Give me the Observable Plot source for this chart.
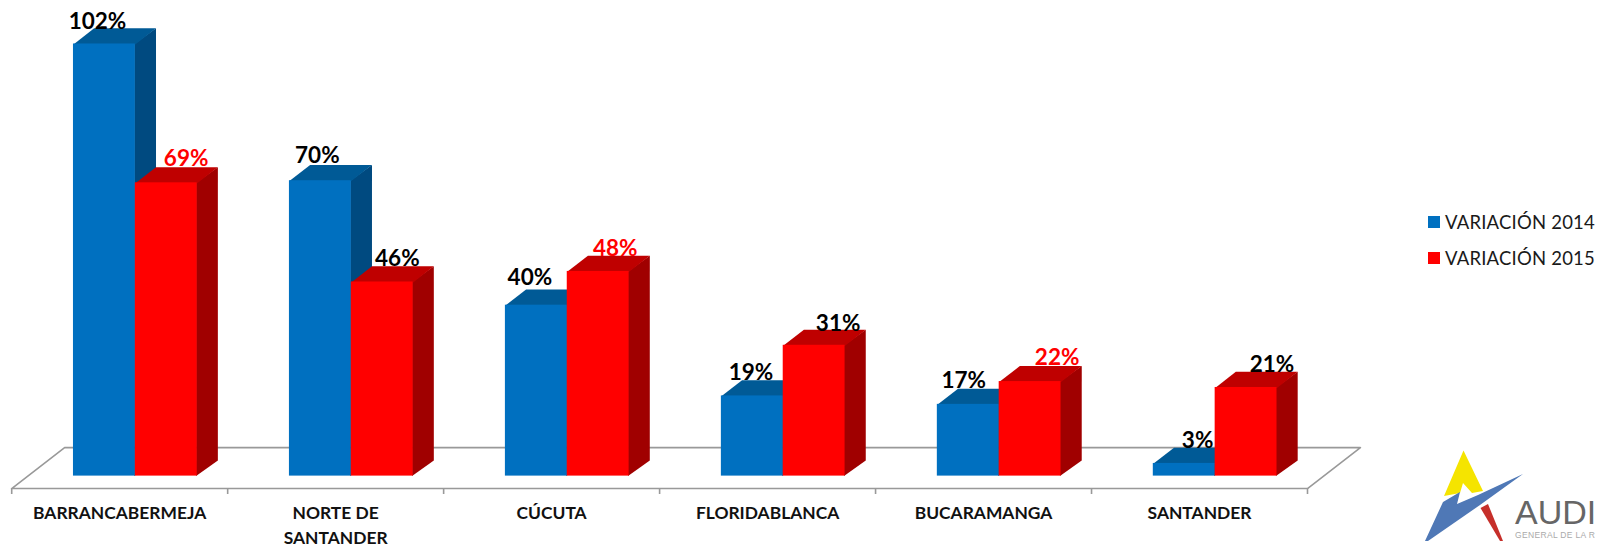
<!DOCTYPE html>
<html>
<head>
<meta charset="utf-8">
<script src="https://cdn.jsdelivr.net/npm/d3@7"></script>
<script src="https://cdn.jsdelivr.net/npm/@observablehq/plot@0.6"></script>
<style>
html,body{margin:0;padding:0;background:#fff;overflow:hidden;width:1597px;height:545px}
#wrap{position:relative;width:1597px;height:545px}
#wrap svg.plot{display:block;position:absolute;left:0;top:0;font-family:Lato,sans-serif;max-width:none}
.lg{position:absolute;left:1428px;font:18.5px/24px Lato,sans-serif;color:#1a1a1a;letter-spacing:.2px;white-space:nowrap}
.lg i{position:absolute;left:0;top:6px;width:12px;height:12px}
.lg span{margin-left:17px}
#logo{position:absolute;left:1420px;top:445px}
</style>
</head>
<body>
<div id="wrap"></div>
<script>
const categories = ["BARRANCABERMEJA", "NORTE DE\nSANTANDER", "CÚCUTA", "FLORIDABLANCA", "BUCARAMANGA", "SANTANDER"];
const variacion2014 = [102.4, 70, 40.5, 19, 17, 3];
const variacion2015 = [69.5, 46, 48.5, 31, 22.4, 21];
const labels2014 = ["102%", "70%", "40%", "19%", "17%", "3%"];
const labels2015 = ["69%", "46%", "48%", "31%", "22%", "21%"];
const labelColors2014 = ["#000", "#000", "#000", "#000", "#000", "#000"];
const labelColors2015 = ["#f00", "#000", "#f00", "#000", "#f00", "#000"];
// Hand-placed label offsets of the original, in category widths and value units.
const nudgeX2014 = [-0.032, -0.014, -0.030, -0.006, -0.021, 0.062];
const nudgeX2015 = [0.092, 0.070, 0.079, 0.111, 0.125, 0.120];
const nudgeY2014 = [5.2, 5.9, 6.5, 5.4, 5.7, 5.4];
const nudgeY2015 = [5.65, 5.4, 5.4, 5.2, 5.6, 5.4];

const barStart = 0.286, barWidth = 0.2864;   // in category widths
const depthX = 0.0958, depthY = 3.7;         // 3-D offset of a bar
const floorDepthX = 0.245, floorDepthY = 9.7, floorFront = -2.95;

const series = [
  {name: "VARIACIÓN 2014", values: variacion2014, offset: 0, front: "#0070C0", top: "#005A96", side: "#004A80", labels: labels2014, colors: labelColors2014, nx: nudgeX2014, ny: nudgeY2014},
  {name: "VARIACIÓN 2015", values: variacion2015, offset: 1, front: "#FF0000", top: "#BF0000", side: "#A00000", labels: labels2015, colors: labelColors2015, nx: nudgeX2015, ny: nudgeY2015}
];

const n = categories.length;
const floor = [[0, floorFront], [n, floorFront], [n + floorDepthX, floorFront + floorDepthY], [floorDepthX, floorFront + floorDepthY], [0, floorFront]];

const marks = [
  Plot.line(floor, {x: d => d[0], y: d => d[1], stroke: "#999", strokeWidth: 1.6, fill: "#fff", curve: "linear"})
];

for (const s of series) {
  const bars = s.values.map((v, i) => {
    const x1 = i + barStart + s.offset * barWidth, x2 = x1 + barWidth;
    return {i, v, x1, x2};
  });
  const side = bars.flatMap(b => [[b.x2 - 0.005, 0], [b.x2 + depthX, depthY], [b.x2 + depthX, b.v + depthY], [b.x2 - 0.005, b.v]].map(p => ({z: b.i, x: p[0], y: p[1]})));
  const top = bars.flatMap(b => [[b.x1, b.v - 0.1], [b.x1 + depthX, b.v + depthY], [b.x2 + depthX, b.v + depthY], [b.x2, b.v - 0.1]].map(p => ({z: b.i, x: p[0], y: p[1]})));
  marks.push(
    Plot.line(side, {x: "x", y: "y", z: "z", fill: s.side, stroke: null, curve: "linear"}),
    Plot.line(top, {x: "x", y: "y", z: "z", fill: s.top, stroke: null, curve: "linear"}),
    Plot.rectY(bars, {x1: "x1", x2: "x2", y1: 0, y2: "v", fill: s.front})
  );
}
for (const s of series) {
  const lab = s.values.map((v, i) => ({
    x: i + barStart + (s.offset + 0.5) * barWidth + s.nx[i],
    y: v + s.ny[i], t: s.labels[i], c: s.colors[i]
  }));
  marks.push(Plot.text(lab, {x: "x", y: "y", text: "t", fill: d => d.c, fontSize: 22.5, fontWeight: 700, fontFamily: "Lato, sans-serif"}));
}
marks.push(
  Plot.axisX({ticks: d3.range(n + 1), tickSize: 6, tickFormat: () => "", stroke: "#999", strokeWidth: 1.6, label: null}),
  Plot.axisX({ticks: d3.range(n).map(i => i + 0.5), tickSize: 0, tickPadding: 13.5, tickFormat: d => categories[Math.floor(d)], label: null,
    fontSize: 17.4, fontWeight: 700, fontFamily: "Lato, sans-serif", fill: "#111", lineHeight: 1.4, textAnchor: "middle", lineAnchor: "top"})
);

const chart = Plot.plot({
  width: 1597, height: 545,
  marginLeft: 11.2, marginRight: 290, marginTop: 0, marginBottom: 57,
  x: {domain: [0, n], axis: null},
  y: {domain: [0, 100], range: [475.6, 53.6], axis: null},
  style: {background: "transparent", overflow: "visible"},
  marks
});
const wrap = document.getElementById("wrap");
wrap.appendChild(chart);

series.forEach((s, k) => {
  const d = document.createElement("div");
  d.className = "lg";
  d.style.top = (210 + k * 36) + "px";
  d.innerHTML = `<i style="background:${s.front}"></i><span>${s.name}</span>`;
  wrap.appendChild(d);
});

const logo = document.createElementNS("http://www.w3.org/2000/svg", "svg");
logo.setAttribute("id", "logo");
logo.setAttribute("width", 177);
logo.setAttribute("height", 100);
logo.setAttribute("viewBox", "1420 445 177 100");
logo.innerHTML = `
<polygon fill="#F5E400" points="1463.5,450.5 1483,491 1472,493 1463,483 1460,493 1444,496"/>
<polygon fill="#4F78B6" points="1523,474 1478,495 1457,504 1460,492 1443,502 1425,541 1428,541 1480,505"/>
<polygon fill="#C62F2A" points="1480.5,508 1488,504 1503,541 1500,541"/>
<text x="1515" y="524" font-family="'Liberation Sans',sans-serif" font-size="34" fill="#666">AUDI</text>
<text x="1515" y="538" font-family="'Liberation Sans',sans-serif" font-size="8.5" textLength="80" fill="#aaa">GENERAL DE LA R</text>`;
wrap.appendChild(logo);
</script>
</body>
</html>
